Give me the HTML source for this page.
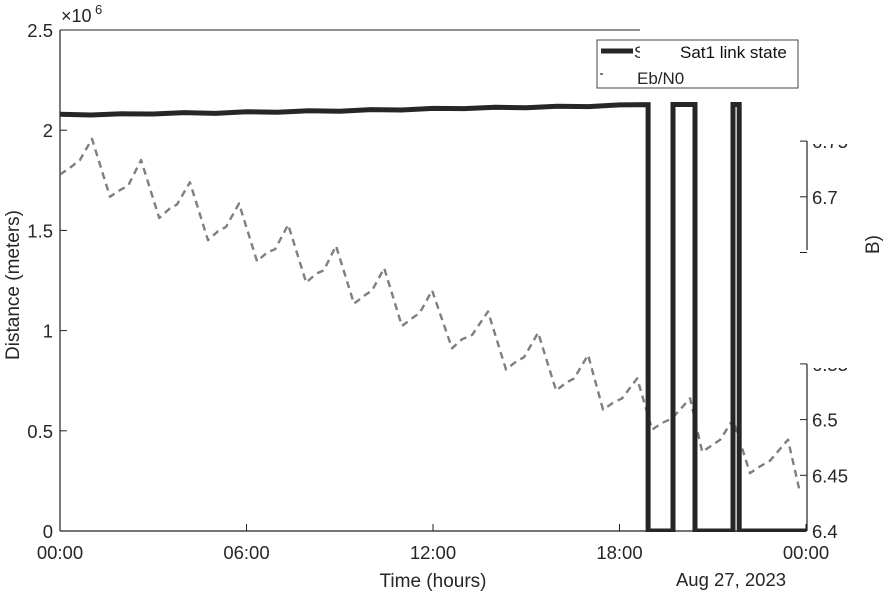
<!DOCTYPE html>
<html><head><meta charset="utf-8"><style>
html,body{margin:0;padding:0;background:#fff;}
svg{display:block;font-family:"Liberation Sans",Arial,sans-serif;}
</style></head><body>
<svg id="chart" width="885" height="595" viewBox="0 0 885 595">
<defs>
<clipPath id="plotclip"><rect x="60" y="30" width="746" height="502"/></clipPath>
<clipPath id="rclipTop"><rect x="800" y="144" width="85" height="102"/></clipPath>
<clipPath id="rclipBot"><rect x="800" y="368" width="85" height="175"/></clipPath>
</defs>
<g id="axes"></g>
<g id="series" clip-path="url(#plotclip)"></g>
<g id="overlay"></g>
</svg>
<script>
// Distance series (hours, meters x1e6)
const distHours = [0,1,2,3,4,5,6,7,8,9,10,11,12,13,14,15,16,17,18,19];
const distVals  = [2.08,2.076,2.082,2.081,2.088,2.084,2.092,2.09,2.097,2.095,2.103,2.101,2.109,2.108,2.115,2.112,2.12,2.118,2.126,2.128];
// Link state transitions (hours, state)
const linkHours = [0,18.92,19.72,20.43,21.65,21.85,24];
const linkState = [1,0,1,0,1,0,0];
// Eb/N0 series (hours, dB)
const ebHours = [0,0.32,0.64,1.03,1.61,1.93,2.19,2.61,3.19,3.51,3.76,4.18,4.76,5.08,5.34,5.76,6.34,6.66,6.92,7.34,7.92,8.24,8.49,8.88,9.46,9.78,10.04,10.43,11.0,11.33,11.58,11.97,12.61,12.93,13.26,13.77,14.35,14.67,14.93,15.38,15.96,16.28,16.54,16.99,17.47,17.79,18.08,18.57,19.05,19.37,19.69,20.27,20.66,20.98,21.24,21.65,22.20,22.52,22.84,23.42,23.81];
const ebVals = [6.720,6.726,6.733,6.752,6.700,6.706,6.710,6.733,6.681,6.689,6.693,6.713,6.661,6.669,6.673,6.694,6.642,6.650,6.653,6.675,6.623,6.631,6.634,6.656,6.604,6.611,6.616,6.636,6.584,6.591,6.596,6.616,6.564,6.572,6.576,6.597,6.545,6.552,6.556,6.578,6.526,6.533,6.537,6.558,6.509,6.515,6.519,6.537,6.491,6.497,6.501,6.519,6.471,6.477,6.482,6.500,6.452,6.458,6.463,6.482,6.434];
const xTicks = [0,6,12,18,24];
const xTickLabels = ["00:00","06:00","12:00","18:00","00:00"];
const yTicks = [0,0.5,1,1.5,2,2.5];
const yTickLabels = ["0","0.5","1","1.5","2","2.5"];
const rTicks = [6.4,6.45,6.5,6.55,6.65,6.7,6.75];
const rTickLabels = ["6.4","6.45","6.5","6.55","6.65","6.7","6.75"];

const NS="http://www.w3.org/2000/svg";
const X0=60,X1=806,Y0=531,Y1=30;
const xs=h=>X0+(h/24)*(X1-X0);
const ys=v=>Y0-(v/2.5)*(Y0-Y1);
const rs=v=>Y0-((v-6.4)/0.05)*55.7;
function mk(tag,attrs,parent,text){const e=document.createElementNS(NS,tag);for(const k in attrs)e.setAttribute(k,attrs[k]);if(text!==undefined)e.textContent=text;parent.appendChild(e);return e;}
const axes=document.getElementById('axes'),series=document.getElementById('series'),ov=document.getElementById('overlay');

let l=mk('line',{x1:X0,y1:Y1,x2:X0,y2:Y0,stroke:'#222','stroke-width':1.2},axes);


l=mk('line',{x1:X0,y1:Y0,x2:X1,y2:Y0,stroke:'#222','stroke-width':1.2},axes);


l=mk('line',{x1:X0,y1:Y1,x2:640,y2:Y1,stroke:'#222','stroke-width':1},axes);



xTicks.forEach((t,i)=>{
  const x=xs(t);
  const tk=mk('line',{x1:x,y1:Y0,x2:x,y2:Y0-7,stroke:'#222'},axes);
  
  
  const tx=mk('text',{x:x,y:559,'font-size':18.5,'text-anchor':'middle',fill:'#262626'},axes,xTickLabels[i]);
  
  
});
yTicks.forEach((t,i)=>{
  const y=ys(t);
  const tk=mk('line',{x1:X0,y1:y,x2:X0+7,y2:y,stroke:'#222'},axes);
  
  
  const tx=mk('text',{x:53,y:y+7,'font-size':18.5,'text-anchor':'end',fill:'#262626'},axes,yTickLabels[i]);
  
  
});
let t=mk('text',{x:61,y:22,'font-size':18,fill:'#262626'},axes,'×10');


t=mk('text',{x:95,y:14,'font-size':13,fill:'#262626'},axes,'6');


t=mk('text',{x:0,y:0,'font-size':19,'text-anchor':'middle',fill:'#262626',transform:'translate(19,285) rotate(-90)'},axes,'Distance (meters)');


t=mk('text',{x:433,y:587,'font-size':19,'text-anchor':'middle',fill:'#262626'},axes,'Time (hours)');


t=mk('text',{x:731,y:586,'font-size':18.5,'text-anchor':'middle',fill:'#262626'},axes,'Aug 27, 2023');



let d=ebHours.map((h,i)=>(i?'L':'M')+xs(h).toFixed(1)+','+rs(ebVals[i]).toFixed(1)).join(' ');
let p=mk('path',{d:d,fill:'none',stroke:'#7f7f7f','stroke-width':2.4,'stroke-dasharray':'7,5','stroke-linejoin':'round'},series);



function distAt(h){for(let i=0;i<distHours.length-1;i++){if(h<=distHours[i+1]){const f=(h-distHours[i])/(distHours[i+1]-distHours[i]);return distVals[i]+f*(distVals[i+1]-distVals[i]);}}return distVals[distVals.length-1];}
let pts=[];
for(let i=0;i<linkHours.length-1;i++){
  const a=linkHours[i],b=linkHours[i+1],s=linkState[i];
  if(s){
    pts.push([a,distAt(a)]);
    distHours.forEach(h=>{if(h>a&&h<b)pts.push([h,distAt(h)]);});
    pts.push([b,distAt(b)]);
  } else {pts.push([a,0]);pts.push([b,0]);}
}
d=pts.map((q,i)=>(i?'L':'M')+xs(q[0]).toFixed(1)+','+ys(q[1]).toFixed(1)).join(' ');
p=mk('path',{d:d,fill:'none',stroke:'#262626','stroke-width':5,'stroke-linejoin':'miter'},series);



l=mk('line',{x1:807,y1:141,x2:807,y2:250,stroke:'#222','stroke-width':1.2},ov);


l=mk('line',{x1:807,y1:364,x2:807,y2:531,stroke:'#222','stroke-width':1.2},ov);


rTicks.forEach((v,i)=>{
  const y=rs(v);
  const tk=mk('line',{x1:800,y1:y,x2:807,y2:y,stroke:'#222'},ov);
  
  
  const clip=(y<300)?'url(#rclipTop)':'url(#rclipBot)';
  const tx=mk('text',{x:812,y:y+7,'font-size':18.5,fill:'#262626','clip-path':clip},ov,rTickLabels[i]);
  
  
});
t=mk('text',{x:0,y:0,'font-size':19,fill:'#262626',transform:'translate(879,254) rotate(-90)'},ov,'B)');



const lg=mk('g',{},ov);


mk('rect',{x:597,y:40,width:201,height:48,fill:'#fff',stroke:'#444','stroke-width':1},lg);
let le=mk('line',{x1:601,y1:51,x2:633,y2:51,stroke:'#262626','stroke-width':5},lg);


mk('text',{x:634,y:58,'font-size':17,fill:'#262626'},lg,'S');
mk('rect',{x:640,y:42,width:36,height:24,fill:'#fff'},lg);
t=mk('text',{x:680,y:58,'font-size':17,fill:'#111'},lg,'Sat1 link state');


le=mk('line',{x1:600,y1:74,x2:603,y2:74,stroke:'#7f7f7f','stroke-width':2},lg);


t=mk('text',{x:637,y:84,'font-size':17,fill:'#262626'},lg,'Eb/N0');


mk('rect',{x:630,y:62,width:60,height:9,fill:'#fff'},lg);
</script>
</body></html>
